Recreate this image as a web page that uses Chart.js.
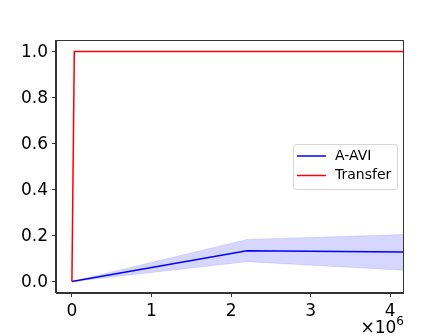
<!DOCTYPE html>
<html>
<head>
<meta charset="utf-8">
<script src="https://cdn.jsdelivr.net/npm/chart.js@4.4.1/dist/chart.umd.min.js"></script>
<style>
  html, body { margin: 0; padding: 0; background: #fff; }
</style>
</head>
<body>
<canvas id="chart" width="448" height="336"></canvas>
<script>
// data (x in env steps)
const STEPS_AVI = [0, 2.2e6, 4.16e6];
const MEAN_AVI = [0, 0.134, 0.128];
const UPPER_AVI = [0, 0.183, 0.204];
const LOWER_AVI = [0, 0.086, 0.049];

const STEPS_TRANSFER = [0, 0.03e6, 4.16e6];
const MEAN_TRANSFER = [0, 1.0, 1.0];

const X_TICKS = [0, 1e6, 2e6, 3e6, 4e6];
const Y_TICKS = [0, 0.2, 0.4, 0.6, 0.8, 1.0];

const FONT = 'DejaVu Sans';
const AXIS_COL = '#333';

const pts = (xs, ys) => xs.map((x, i) => ({ x, y: ys[i] }));

// box + offset text + legend drawn in matplotlib fashion
const mplExtras = {
  id: 'mplExtras',
  afterDraw(chart) {
    const { ctx, chartArea: a } = chart;
    ctx.save();
    ctx.strokeStyle = AXIS_COL;
    ctx.lineWidth = 1;
    ctx.strokeRect(Math.round(a.left) - 0.5, Math.round(a.top) + 0.5,
      Math.round(a.right - a.left) + 1, Math.round(a.bottom - a.top) - 1);

    // ×10^6 offset label
    ctx.fillStyle = '#000';
    ctx.textBaseline = 'alphabetic';
    ctx.textAlign = 'left';
    ctx.font = '17px ' + FONT;
    const base = '×10';
    const w = ctx.measureText(base).width;
    ctx.font = '12px ' + FONT;
    const w6 = ctx.measureText('6').width;
    const x0 = a.right - w - w6 + 1;
    ctx.font = '17px ' + FONT;
    ctx.fillText(base, x0, 333);
    ctx.font = '12px ' + FONT;
    ctx.fillText('6', x0 + w, 325);

    // legend
    const bx = 293, by = 144, bw = 104, bh = 45;
    ctx.globalAlpha = 0.8;
    ctx.fillStyle = '#fff';
    ctx.strokeStyle = '#ccc';
    ctx.beginPath();
    ctx.roundRect(bx + 0.5, by + 0.5, bw, bh, 3);
    ctx.fill();
    ctx.stroke();
    ctx.globalAlpha = 1;
    const items = chart.data.datasets.filter(d => d.inLegend);
    items.forEach((d, i) => {
      const y = 156 + i * 19.5;
      ctx.strokeStyle = d.borderColor;
      ctx.lineWidth = 1.5;
      ctx.beginPath();
      ctx.moveTo(297, y);
      ctx.lineTo(326, y);
      ctx.stroke();
      ctx.fillStyle = '#000';
      ctx.font = '14px ' + FONT;
      ctx.textBaseline = 'middle';
      ctx.fillText(d.label, 335, y);
    });
    ctx.restore();
  }
};

new Chart(document.getElementById('chart'), {
  type: 'line',
  data: {
    datasets: [
      {
        label: 'A-AVI', inLegend: true, order: 1,
        data: pts(STEPS_AVI, MEAN_AVI),
        borderColor: '#0000ff', borderWidth: 1.5, pointRadius: 0, fill: false,
      },
      {
        label: 'Transfer', inLegend: true, order: 0,
        data: pts(STEPS_TRANSFER, MEAN_TRANSFER),
        borderColor: '#ff0000', borderWidth: 1.5, pointRadius: 0, fill: false,
      },
      {
        label: 'upper', order: 3,
        data: pts(STEPS_AVI, UPPER_AVI),
        borderColor: 'rgba(0,0,255,0.1)', borderWidth: 1, pointRadius: 0,
        backgroundColor: 'rgba(0,0,255,0.16)', fill: '+1',
      },
      {
        label: 'lower', order: 4,
        data: pts(STEPS_AVI, LOWER_AVI),
        borderColor: 'rgba(0,0,255,0.1)', borderWidth: 1, pointRadius: 0, fill: false,
      },
    ],
  },
  options: {
    responsive: false,
    animation: false,
    layout: { padding: { top: 40, right: 45, left: 0, bottom: 0 } },
    plugins: { legend: { display: false }, tooltip: { enabled: false } },
    elements: { line: { tension: 0 } },
    scales: {
      x: {
        type: 'linear', min: -0.2e6, max: 4.16e6,
        afterBuildTicks: s => { s.ticks = X_TICKS.map(v => ({ value: v })); },
        afterFit: s => { s.height = 43; },
        grid: { display: true, drawOnChartArea: false, drawTicks: true, tickLength: 4, tickColor: AXIS_COL },
        border: { display: true, color: AXIS_COL, width: 1 },
        ticks: {
          color: '#000', padding: 4, maxRotation: 0,
          font: { family: FONT, size: 17 },
          callback: v => String(Math.round(v / 1e6)),
        },
      },
      y: {
        type: 'linear', min: -0.05, max: 1.05,
        afterBuildTicks: s => { s.ticks = Y_TICKS.map(v => ({ value: v })); },
        afterFit: s => { s.width = 56; },
        grid: { display: true, drawOnChartArea: false, drawTicks: true, tickLength: 4, tickColor: AXIS_COL },
        border: { display: true, color: AXIS_COL, width: 1 },
        ticks: {
          color: '#000', padding: 4, labelOffset: 1,
          font: { family: FONT, size: 17 },
          callback: v => v.toFixed(1),
        },
      },
    },
  },
  plugins: [mplExtras],
});
</script>
</body>
</html>
